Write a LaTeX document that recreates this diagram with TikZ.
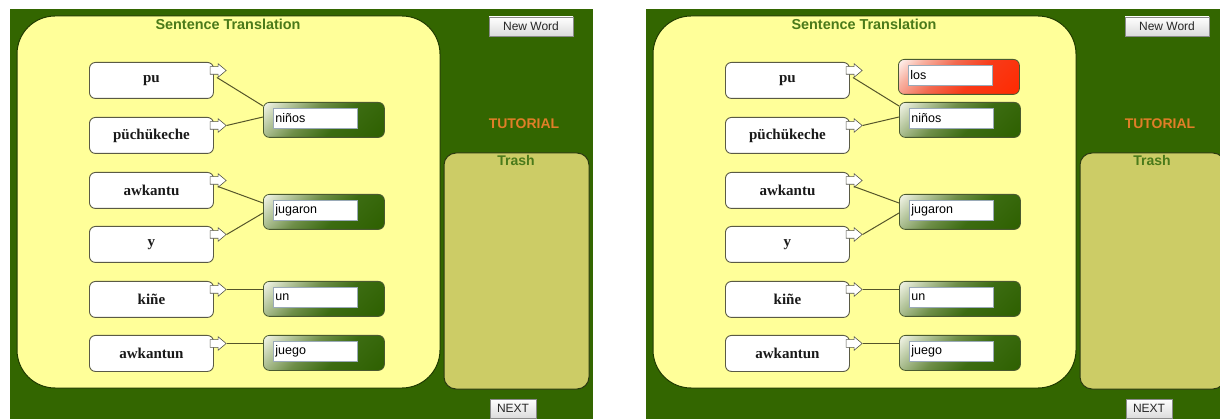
\documentclass[tikz,border=0pt]{standalone}
\usepackage{fontspec}
\setmainfont{Liberation Serif}
\setsansfont{Liberation Sans}
\usetikzlibrary{calc,shapes.arrows}
\definecolor{bggreen}{HTML}{336600}
\definecolor{panelyellow}{HTML}{FFFF99}
\definecolor{paneledge}{HTML}{1E3A00}
\definecolor{trashfill}{HTML}{CCCC66}
\definecolor{trashedge}{HTML}{2A3A10}
\definecolor{boxline}{HTML}{5A5A45}
\definecolor{arrowline}{HTML}{55554A}
\definecolor{spline}{HTML}{4A5A30}
\definecolor{fieldline}{HTML}{9AAAB8}
\definecolor{linkcol}{HTML}{55552A}
\definecolor{titlegreen}{HTML}{4A7A1A}
\definecolor{tutorange}{HTML}{E07E28}
\definecolor{g1}{HTML}{2E6000}
\definecolor{g2}{HTML}{3C6C12}
\definecolor{g3}{HTML}{6E8E48}
\definecolor{g4}{HTML}{B8C8A0}
\definecolor{g5}{HTML}{F4F6EA}
\definecolor{r1}{HTML}{FF2A00}
\definecolor{r2}{HTML}{F83A18}
\definecolor{r3}{HTML}{F26A50}
\definecolor{r4}{HTML}{F8B0A0}
\definecolor{r5}{HTML}{FFF6F2}
\definecolor{btnline}{HTML}{8A8A8A}
\pgfdeclareverticalshading{spgreen}{100bp}{color(0bp)=(g1); color(29bp)=(g1); color(45bp)=(g2); color(55bp)=(g3); color(64bp)=(g4); color(71bp)=(g5); color(100bp)=(g5)}
\pgfdeclareverticalshading{spred}{100bp}{color(0bp)=(r1); color(29bp)=(r1); color(45bp)=(r2); color(55bp)=(r3); color(64bp)=(r4); color(71bp)=(r5); color(100bp)=(r5)}
\tikzset{
  wordbox/.style={draw=boxline, line width=0.9pt, fill=white, rounded corners=6pt,
    minimum width=124pt, minimum height=36pt, inner sep=0pt, anchor=north west,
    font=\bfseries\fontsize{15}{18}\selectfont, text=black!90},
  arrowicon/.style={single arrow, draw=arrowline, fill=white, line width=0.6pt,
    minimum height=16pt, minimum width=13pt, single arrow head extend=3pt,
    single arrow tip angle=80, inner xsep=0pt, inner ysep=3.5pt},
  spbox/.style={draw=spline, line width=0.8pt, rounded corners=6pt,
    minimum width=121pt, minimum height=35pt, anchor=north west, inner sep=0pt},
  diagshade/.style={path picture={\shade[shading=#1, shading angle=45]
    ($(path picture bounding box.center)+(-65,-65)$) rectangle
    ($(path picture bounding box.center)+(65,65)$);}},
  greengrad/.style={diagshade=spgreen},
  redgrad/.style={diagshade=spred},
  field/.style={draw=fieldline, line width=0.8pt, fill=white, minimum height=20pt,
    anchor=north west, inner sep=2pt, text width=80pt, align=left,
    font=\sffamily\fontsize{12.5}{14}\selectfont, text=black},
  link/.style={draw=linkcol, line width=1pt},
  panel/.style={fill=panelyellow, draw=paneledge, line width=1pt, rounded corners=38pt},
  trashbox/.style={fill=trashfill, draw=trashedge, line width=1pt, rounded corners=12pt},
  btn/.style={draw=btnline, line width=0.8pt, top color=white, bottom color=black!14,
    inner sep=0pt, font=\sffamily\fontsize{12}{14}\selectfont, text=black!85},
  label/.style={font=\sffamily\bfseries\fontsize{14.4}{16}\selectfont, text=titlegreen},
}
\newcommand\drawpanel[1]{%
  \fill[bggreen] (10,9) rectangle (593,419);
  \draw[panel] (17,16) rectangle (440,388);
  \draw[trashbox] (444,153) rectangle (589,389);
  \node[label] (#1title) at (228,24) {Sentence Translation};
  \node[label, font=\sffamily\bfseries\fontsize{14}{16}\selectfont, text=tutorange] (#1tut) at (524,124) {TUTORIAL};
  \node[label, font=\sffamily\bfseries\fontsize{14}{16}\selectfont] (#1trash) at (516,160) {Trash};
  \node[btn, minimum width=84pt, minimum height=19pt] (#1new) at (531,26.5) {New Word};
  \node[btn, minimum width=46pt, minimum height=19pt] (#1next) at (513,408.5) {NEXT};
  % source words
  \node[wordbox] (#1w1) at (89,62) {pu};
  \node[wordbox] (#1w2) at (89,117) {püchükeche};
  \node[wordbox] (#1w3) at (89,172) {awkantu};
  \node[wordbox] (#1w4) at (89,226) {y};
  \node[wordbox] (#1w5) at (89,281) {kiñe};
  \node[wordbox] (#1w6) at (89,335) {awkantun};
  % translation boxes
  \node[spbox, greengrad] (#1s1) at (263,102) {};
  \node[spbox, greengrad] (#1s2) at (263,194) {};
  \node[spbox, greengrad] (#1s3) at (263,281) {};
  \node[spbox, greengrad] (#1s4) at (263,335) {};
  \node[field] (#1f1) at ($(#1s1.north west)+(10,6)$) {niños};
  \node[field] (#1f2) at ($(#1s2.north west)+(10,6)$) {jugaron};
  \node[field] (#1f3) at ($(#1s3.north west)+(10,6)$) {un};
  \node[field] (#1f4) at ($(#1s4.north west)+(10,6)$) {juego};
  % arrow icons
  \node[arrowicon] (#1a1) at ($(#1w1.north east)+(2,8.5)$) {};
  \node[arrowicon] (#1a2) at ($(#1w2.north east)+(2,8.5)$) {};
  \node[arrowicon] (#1a3) at ($(#1w3.north east)+(2,8.5)$) {};
  \node[arrowicon] (#1a4) at ($(#1w4.north east)+(2,8.5)$) {};
  \node[arrowicon] (#1a5) at ($(#1w5.north east)+(2,8.5)$) {};
  \node[arrowicon] (#1a6) at ($(#1w6.north east)+(2,8.5)$) {};
  % links
  \draw[link] ($(#1a1.center)+(1,7)$) -- ($(#1s1.north west)+(0,4)$);
  \draw[link] (#1a2.tip) -- ($(#1s1.north west)+(0,15)$);
  \draw[link] ($(#1a3.center)+(2,6)$) -- ($(#1s2.north west)+(0,9)$);
  \draw[link] (#1a4.tip) -- ($(#1s2.north west)+(0,19)$);
  \draw[link] (#1a5.tip) -- (#1a5.tip -| #1s3.west);
  \draw[link] (#1a6.tip) -- (#1a6.tip -| #1s4.west);
}
\begin{document}
\begin{tikzpicture}[x=1pt,y=-1pt]
\fill[white] (0,0) rectangle (1220,419);
\useasboundingbox (0,0) rectangle (1220,419);
\begin{scope}
\drawpanel{L}
\end{scope}
\begin{scope}[xshift=636pt]
\drawpanel{R}
\node[spbox, redgrad] (Rlos) at (262,59) {};
\node[field] (Rflos) at ($(Rlos.north west)+(10,6)$) {los};
\end{scope}
\end{tikzpicture}
\end{document}
